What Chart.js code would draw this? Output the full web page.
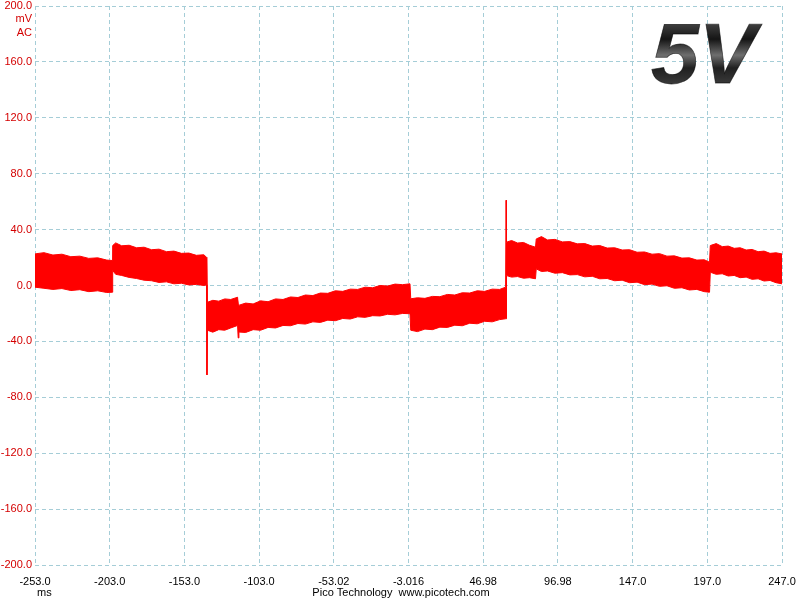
<!DOCTYPE html>
<html>
<head>
<meta charset="utf-8">
<script src="https://cdn.jsdelivr.net/npm/chart.js@4"></script>
<style>
  html, body { margin: 0; padding: 0; background: #fff; }
  #wrap { width: 800px; height: 600px; position: relative; }
</style>
</head>
<body>
<div id="wrap"><canvas id="scope" width="800" height="600"></canvas></div>
<script>
// time axis (ms) and tick labels as shown on the scope
var xTicks = [-253, -203, -153, -103, -53.02, -3.016, 46.98, 96.98, 147, 197, 247];
var xTickLabels = ['-253.0', '-203.0', '-153.0', '-103.0', '-53.02', '-3.016', '46.98', '96.98', '147.0', '197.0', '247.0'];

// sample times (ms) with upper / lower edge of the noisy trace (mV)
var times = [
  -253.0, -247, -241, -235, -229, -223, -217, -211, -205, -201.3,
  -201.0, -199, -195, -190, -185, -180, -175, -170, -165, -160, -155, -150, -145, -140, -138.2,
  -137.9,
  -137.6, -134, -130, -126, -122, -117.4,
  -117.0, -116.5, -112, -107, -102, -97, -92, -87, -82, -77, -72, -67, -62, -57, -52, -47, -42, -37, -32, -27, -22, -17, -12, -7, -2.0,
  -1.5, 3, 8, 13, 18, 23, 28, 33, 38, 43, 48, 53, 58, 62.0,
  62.3,
  62.6, 66, 70, 74, 78, 82.0,
  82.5, 86, 90, 95, 100, 105, 110, 115, 120, 125, 130, 135, 140, 145, 150, 155, 160, 165, 170, 175, 180, 185, 190, 195, 198.5,
  199.0, 203, 207, 211, 215, 219, 223, 227, 231, 235, 239, 243, 247
];
var upperMv = [
  22.6, 23.5, 21.8, 22.4, 20.6, 21.0, 19.4, 19.8, 18.2, 17.9,
  28.6, 30.5, 28.4, 28.8, 27.0, 27.4, 25.6, 26.0, 24.2, 24.6, 23.0, 23.2, 21.6, 22.0, 20.2,
  20.0,
  -12.0, -10.6, -11.2, -9.6, -10.0, -8.4,
  -14.3, -14.3, -12.6, -13.2, -11.0, -11.6, -9.6, -10.0, -8.2, -8.6, -6.8, -7.2, -5.4, -5.6, -3.8, -4.2, -2.6, -2.8, -1.2, -1.6, 0.0, -0.4, 1.0, 0.6, 1.2,
  -9.5, -8.8, -9.2, -7.8, -8.0, -6.4, -6.8, -5.2, -5.4, -3.8, -4.2, -2.6, -2.8, -1.2,
  61.0,
  31.0, 32.2, 30.4, 30.8, 28.8, 27.4,
  33.3, 35.0, 32.6, 33.0, 31.2, 31.4, 29.8, 30.0, 28.2, 28.6, 26.8, 27.0, 25.4, 25.6, 23.8, 24.0, 22.4, 22.8, 21.0, 21.2, 19.6, 19.8, 18.2, 18.4, 16.7,
  28.6, 30.0, 27.8, 28.2, 26.6, 27.0, 25.4, 25.8, 24.2, 24.6, 23.0, 23.4, 22.6
];
var lowerMv = [
  -1.2, -2.0, -2.8, -2.2, -3.6, -3.0, -4.4, -3.8, -5.0, -4.8,
  10.7, 8.0, 7.2, 5.8, 5.0, 3.8, 3.4, 2.2, 2.6, 1.2, 1.6, 0.4, 0.8, 0.0, 0.5,
  -64.0,
  -32.0, -33.4, -31.6, -32.0, -30.4, -28.6,
  -37.5, -33.3, -33.6, -31.6, -32.0, -30.0, -30.4, -28.6, -28.8, -27.2, -27.6, -26.0, -26.4, -24.8, -25.2, -23.6, -24.0, -22.4, -22.8, -21.6, -21.8, -20.6, -21.0, -20.0, -20.2,
  -32.0, -33.0, -31.2, -31.6, -29.8, -30.0, -28.4, -28.8, -27.0, -27.4, -25.6, -26.0, -24.4, -23.8,
  -23.8,
  7.1, 6.0, 6.4, 5.2, 5.6, 4.8,
  11.9, 10.0, 10.4, 8.8, 9.2, 7.6, 7.8, 6.2, 6.6, 4.8, 5.0, 3.4, 3.8, 2.0, 2.4, 0.6, 1.0, -0.6, -0.2, -2.0, -1.6, -3.2, -2.8, -4.4, -4.8,
  9.5, 8.0, 8.4, 6.8, 7.2, 5.6, 6.0, 4.4, 4.8, 3.2, 3.6, 2.0, 1.2
];

var RED = '#ff0000';
var LABEL_RED = '#d40000';
var GRID = 'rgb(165,205,215)';
var FONT = '"Liberation Sans", Arial, sans-serif';

function toPoints(ys) {
  return times.map(function (t, i) { return { x: t, y: ys[i] }; });
}

// extra texts: units, footer, big "5V" badge
var scopeText = {
  id: 'scopeText',
  afterDraw: function (chart) {
    var ctx = chart.ctx;
    ctx.save();
    ctx.fillStyle = LABEL_RED;
    ctx.font = '11px ' + FONT;
    ctx.textAlign = 'right';
    ctx.textBaseline = 'middle';
    ctx.fillText('mV', 32, 19);
    ctx.fillText('AC', 32, 33);

    ctx.fillStyle = '#000';
    ctx.textAlign = 'left';
    ctx.fillText('ms', 37, 593);
    ctx.textAlign = 'center';
    ctx.fillText('Pico Technology  www.picotech.com', 401, 593);

    ctx.font = 'italic bold 86px ' + FONT;
    ctx.textAlign = 'left';
    ctx.textBaseline = 'alphabetic';
    var g = ctx.createLinearGradient(0, 20, 0, 84);
    g.addColorStop(0, '#4a4a4a');
    g.addColorStop(0.3, '#151515');
    g.addColorStop(0.55, '#6e6e6e');
    g.addColorStop(0.75, '#202020');
    g.addColorStop(1, '#3a3a3a');
    ctx.fillStyle = g;
    ctx.fillText('5V', 651, 83);
    ctx.lineWidth = 0.8;
    ctx.strokeStyle = 'rgba(0,0,0,0.6)';
    ctx.strokeText('5V', 651, 83);
    ctx.restore();
  }
};

var chart = new Chart(document.getElementById('scope').getContext('2d'), {
  type: 'line',
  data: {
    datasets: [
      {
        label: 'upper',
        data: toPoints(upperMv),
        borderColor: RED,
        borderWidth: 1,
        pointRadius: 0,
        tension: 0,
        fill: false
      },
      {
        label: 'lower',
        data: toPoints(lowerMv),
        borderColor: RED,
        backgroundColor: RED,
        borderWidth: 1,
        pointRadius: 0,
        tension: 0,
        fill: '-1'
      }
    ]
  },
  options: {
    responsive: false,
    animation: false,
    events: [],
    layout: { padding: { top: 6, right: 18, left: 0, bottom: 0 } },
    plugins: { legend: { display: false }, tooltip: { enabled: false } },
    scales: {
      x: {
        type: 'linear',
        min: -253,
        max: 247,
        afterBuildTicks: function (scale) {
          scale.ticks = xTicks.map(function (v) { return { value: v }; });
        },
        afterFit: function (scale) {
          scale.height = 35;
          scale.paddingLeft = 0;
          scale.paddingRight = 0;
        },
        border: { display: false, dash: [4, 3] },
        grid: { color: GRID, lineWidth: 1, drawTicks: false },
        ticks: {
          autoSkip: false,
          maxRotation: 0,
          padding: 10,
          color: '#000',
          font: { family: FONT, size: 11 },
          callback: function (v, i) { return xTickLabels[i]; }
        }
      },
      y: {
        min: -200,
        max: 200,
        afterFit: function (scale) {
          scale.width = 35;
          scale.paddingTop = 0;
          scale.paddingBottom = 0;
        },
        border: { display: false, dash: [4, 3] },
        grid: { color: GRID, lineWidth: 1, drawTicks: false },
        ticks: {
          stepSize: 40,
          padding: 3,
          color: LABEL_RED,
          font: { family: FONT, size: 11 },
          callback: function (v) { return v.toFixed(1); }
        }
      }
    }
  },
  plugins: [scopeText]
});
</script>
</body>
</html>
